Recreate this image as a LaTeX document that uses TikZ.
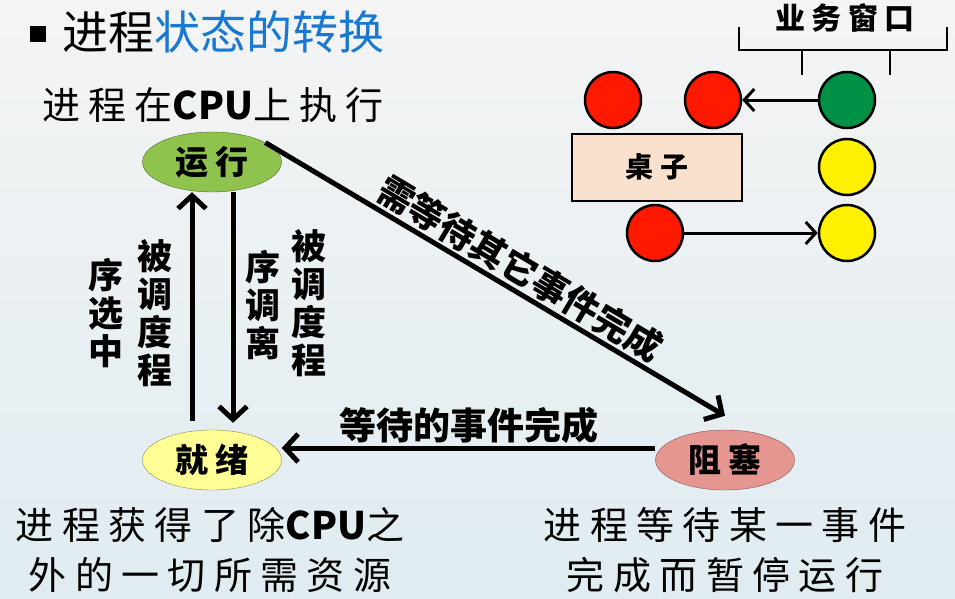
\documentclass[tikz,border=0pt]{standalone}
\usepackage{fontspec}
\setmainfont{Noto Sans CJK SC}
\newfontfamily\kaifont[LetterSpace=22]{Noto Sans CJK SC}
\newfontfamily\heifont{Noto Sans CJK SC}
\usetikzlibrary{arrows.meta,shapes.geometric}

\definecolor{bgtop}{RGB}{244,244,244}
\definecolor{bgbot}{RGB}{224,236,241}
\definecolor{titleblue}{RGB}{25,120,210}
\definecolor{runfill}{RGB}{143,195,78}
\definecolor{readyfill}{RGB}{255,255,150}
\definecolor{blockfill}{RGB}{230,150,145}
\definecolor{deskfill}{RGB}{250,225,205}
\definecolor{ballred}{RGB}{255,25,0}
\definecolor{ballgreen}{RGB}{0,145,70}
\definecolor{ballyellow}{RGB}{255,240,0}

\begin{document}
\begin{tikzpicture}[x=1pt,y=-1pt,
	state/.style={ellipse,draw=#1!55!black,fill=#1,minimum width=139pt,minimum height=60pt,inner sep=0pt,font=\kaifont\bfseries\fontsize{33}{34}\selectfont},
	trans/.style={line width=5pt,-{Straight Barb[length=13pt,width=28pt]}},
	tag/.style={font=\heifont\bfseries\fontsize{35}{38}\selectfont,align=center,inner sep=2pt},
	note/.style={font=\kaifont\fontsize{38}{50}\selectfont,align=center},
	ball/.style={circle,draw,line width=2.5pt,fill=#1,minimum size=56pt,inner sep=0pt},
	move/.style={line width=3pt,-{Straight Barb[length=10pt,width=22pt]}}]
	\shade[top color=bgtop,bottom color=bgbot] (0,0) rectangle (955,598);
	\path[use as bounding box] (0,0) rectangle (955,598);
	% title
	\node[fill=black,minimum size=16pt,inner sep=0pt] (bullet) at (38,34) {};
	\node[anchor=west,font=\fontsize{46}{48}\selectfont] (title) at (59,32) {进程\textcolor{titleblue}{状态的转换}};
	% states
	\node[state=runfill] (run) at (212,162) {运行};
	\node[state=readyfill] (ready) at (212,460) {就绪};
	\node[state=blockfill] (block) at (725,460) {阻塞};
	\node[note] (runnote) at (213,105) {进程在{\heifont\bfseries CPU}上执行};
	\node[note] (readynote) at (210,550) {进程获得了除{\heifont\bfseries CPU}之\\外的一切所需资源};
	\node[note] (blocknote) at (725,550) {进程等待某一事件\\完成而暂停运行};
	% transitions
	\coordinate (upx) at (192,0); \coordinate (downx) at (233,0);
	\coordinate (hy) at (0,448);
	\draw[trans,shorten <=9pt] (ready.north -| upx) -- (run.south -| upx);
	\draw[trans,shorten >=7pt] (run.south -| downx) -- (ready.north -| downx);
	\node[tag] (pick1) at (155,313) {被\\调\\度\\程};
	\node[tag] (pick2) at (106,313) {序\\选\\中};
	\node[tag] (leave1) at (309,303) {被\\调\\度\\程};
	\node[tag] (leave2) at (263,305) {序\\调\\离};
	\draw[trans] (run.20) -- ([yshift=14pt]block.north)
		node[pos=0.53,sloped,above,tag,font=\heifont\bfseries\fontsize{36}{38}\selectfont] {需等待其它事件完成};
	\draw[trans] (block.west |- hy) -- (ready.east |- hy)
		node[midway,above,tag,font=\heifont\bfseries\fontsize{37}{40}\selectfont] {等待的事件完成};
	% service window
	\node[font=\kaifont\bfseries\fontsize{30}{32}\selectfont] (window) at (845,18) {业务窗口};
	\draw[line width=2.5pt] (739,27) -- (739,50) -- (947,50) -- (947,27);
	\draw[line width=2.5pt] (802,50) -- (802,75) (890,50) -- (890,75);
	\node[draw,line width=2pt,fill=deskfill,minimum width=170pt,minimum height=67pt,font=\kaifont\bfseries\fontsize{28}{30}\selectfont] (desk) at (657,167) {桌子};
	\node[ball=ballred] (r1) at (613,100) {};
	\node[ball=ballred] (r2) at (713,100) {};
	\node[ball=ballgreen] (g1) at (847,100) {};
	\node[ball=ballyellow] (y1) at (847,167) {};
	\node[ball=ballyellow] (y2) at (847,233) {};
	\node[ball=ballred] (r3) at (655,233) {};
	\draw[move] (g1) -- (r2);
	\draw[move] (r3) -- (y2);
\end{tikzpicture}
\end{document}
